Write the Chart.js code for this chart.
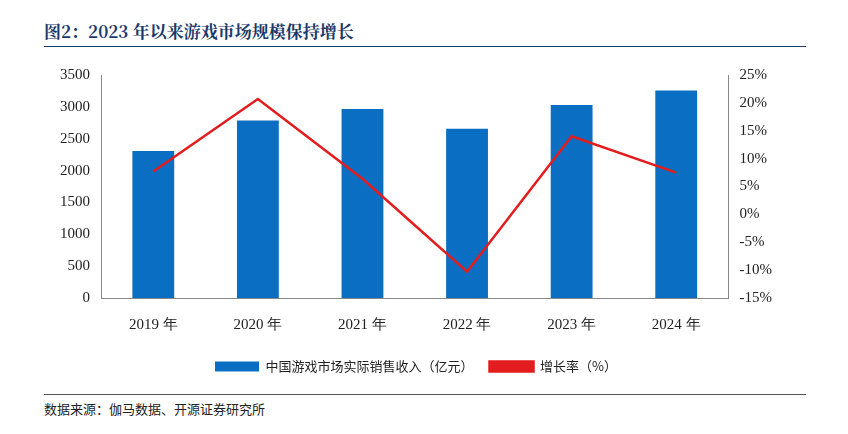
<!DOCTYPE html>
<html><head><meta charset="utf-8">
<script src="https://cdn.jsdelivr.net/npm/chart.js@4"></script>
<style>
body{margin:0;background:#fff;width:848px;height:434px;position:relative;font-family:"Noto Sans CJK SC";}
#t{position:absolute;left:44px;top:18px;font-size:17px;font-weight:bold;color:#1a3a6b;font-family:"Noto Serif CJK SC","Noto Sans CJK SC";}
#l1{position:absolute;left:44px;top:46px;width:762px;border-top:1.5px solid #1a3a6b;}
#l2{position:absolute;left:44px;top:394px;width:762px;border-top:1px solid #555;}
#s{position:absolute;left:44px;top:399px;font-size:13px;color:#222;}
#c{position:absolute;left:0;top:55px;}
</style></head><body>
<div id="t">图2：2023 年以来游戏市场规模保持增长</div>
<div id="l1"></div>
<div id="c"><canvas id="ch" width="848" height="328"></canvas></div>
<div id="l2"></div>
<div id="s">数据来源：伽马数据、开源证券研究所</div>
<script>
const categories=["2019 年","2020 年","2021 年","2022 年","2023 年","2024 年"];
const revenue=[2309,2787,2965,2658,3029,3257];
const growth=[7.7,20.7,6.4,-10.3,14.0,7.5];
new Chart(document.getElementById('ch'),{
data:{labels:categories,datasets:[
{type:'line',label:'增长率（%）',data:growth,yAxisID:'y1',borderColor:'#e31d1d',backgroundColor:'#e31d1d',borderWidth:2.5,pointRadius:0,tension:0},
{type:'bar',label:'中国游戏市场实际销售收入（亿元）',data:revenue,yAxisID:'y',backgroundColor:'#0a6fc2',barPercentage:0.4,categoryPercentage:1}
]},
options:{responsive:false,animation:false,
layout:{padding:{left:57,right:73,top:20,bottom:0}},
plugins:{legend:{position:'bottom',reverse:true,labels:{boxWidth:44,boxHeight:10,padding:16,color:'#222',font:{size:13,family:'Noto Sans CJK SC'}}}},
scales:{
x:{grid:{display:false},border:{color:'#888'},ticks:{color:'#222',font:{size:15,family:'Liberation Serif'},padding:10}},
y:{min:0,max:3500,ticks:{stepSize:500,color:'#222',callback:v=>String(v),font:{size:15,family:'Liberation Serif'}},grid:{display:false},border:{color:'#888'}},
y1:{position:'right',min:-15,max:25,ticks:{stepSize:5,color:'#222',callback:v=>v+'%',font:{size:15,family:'Liberation Serif'}},grid:{display:false},border:{color:'#888'}}
}}});
</script></body></html>
